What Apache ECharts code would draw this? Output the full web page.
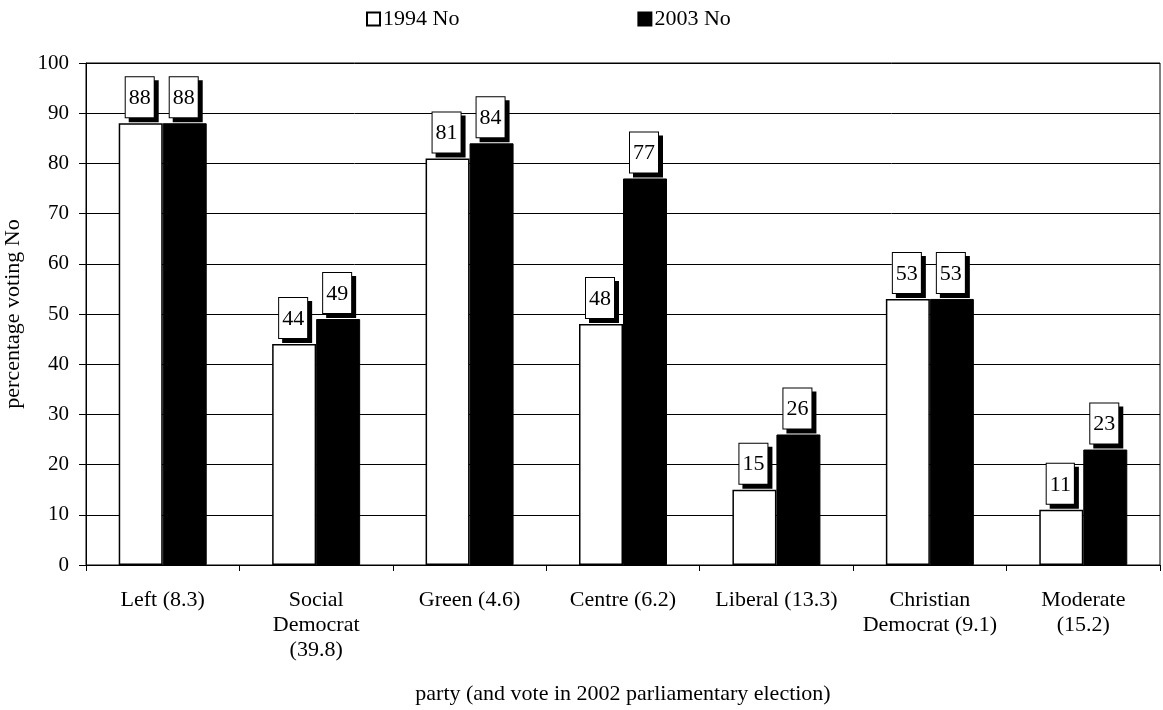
<!DOCTYPE html>
<html>
<head>
<meta charset="utf-8">
<script src="https://cdn.jsdelivr.net/npm/echarts@6/dist/echarts.min.js"></script>
<style>
  html, body { margin: 0; padding: 0; background: #fff; }
  #chart { width: 1163px; height: 710px; }
</style>
</head>
<body>
<div id="chart"></div>
<script>
// Parties with their vote share in the 2002 parliamentary election
const categories = [
  'Left (8.3)',
  'Social\nDemocrat\n(39.8)',
  'Green (4.6)',
  'Centre (6.2)',
  'Liberal (13.3)',
  'Christian\nDemocrat (9.1)',
  'Moderate\n(15.2)'
];
// Percentage voting No in each referendum
const no1994 = [88, 44, 81, 48, 15, 53, 11];
const no2003 = [88, 49, 84, 77, 26, 53, 23];
const yTicks = { min: 0, max: 100, interval: 10 };

const FONT = '"Liberation Serif", "DejaVu Serif", serif';
const FS = 22;

// Value tags: white box with a hard black drop shadow
const boxLabel = {
  show: true,
  position: 'top',
  distance: 6,
  offset: [-1, 0],
  fontFamily: FONT,
  fontSize: 22,
  lineHeight: 24,
  color: '#000',
  backgroundColor: '#fff',
  borderColor: '#000',
  borderWidth: 1,
  padding: [9, 3, 7, 3],
  shadowColor: '#000',
  shadowOffsetX: 4,
  shadowOffsetY: 4,
  shadowBlur: 0,
  formatter: p => String(p.value)
};

const chart = echarts.init(document.getElementById('chart'), null, { renderer: 'canvas' });
chart.setOption({
  animation: false,
  backgroundColor: '#fff',
  textStyle: { fontFamily: FONT, color: '#000' },
  legend: {
    top: 3,
    left: 361,
    itemGap: 178,
    itemWidth: 13,
    itemHeight: 13,
    icon: 'rect',
    textStyle: { fontFamily: FONT, fontSize: FS, color: '#000', padding: [0, 0, 0, -2] },
    data: ['1994 No', '2003 No']
  },
  grid: {
    left: 86,
    right: 3,
    top: 63,
    bottom: 145,
    outerBoundsMode: 'none',
    containLabel: false,
    show: true,
    borderColor: '#000',
    borderWidth: 1,
    backgroundColor: 'transparent'
  },
  xAxis: {
    type: 'category',
    data: categories,
    name: 'party (and vote in 2002 parliamentary election)',
    nameLocation: 'middle',
    nameGap: 118,
    nameTextStyle: { fontFamily: FONT, fontSize: FS, color: '#000' },
    axisLine: { lineStyle: { color: '#000', width: 1 } },
    axisTick: { show: true, length: 6, lineStyle: { color: '#000' } },
    axisLabel: {
      fontFamily: FONT,
      fontSize: FS,
      color: '#000',
      margin: 23,
      lineHeight: 25,
      interval: 0,
      align: 'center'
    }
  },
  yAxis: {
    type: 'value',
    min: yTicks.min,
    max: yTicks.max,
    interval: yTicks.interval,
    name: 'percentage voting No',
    nameLocation: 'middle',
    nameGap: 62,
    nameRotate: 90,
    nameTextStyle: { fontFamily: FONT, fontSize: FS, color: '#000' },
    axisLine: { show: true, lineStyle: { color: '#000', width: 1 } },
    axisTick: { show: true, length: 7, inside: false, lineStyle: { color: '#000' } },
    axisLabel: { fontFamily: FONT, fontSize: 21, color: '#000', margin: 17 },
    splitLine: { show: true, lineStyle: { color: '#000', width: 1 } }
  },
  series: [
    {
      name: '1994 No',
      type: 'bar',
      data: no1994,
      barWidth: 44,
      barGap: '0%',
      itemStyle: { color: '#fff', borderColor: '#000', borderWidth: 1.5 },
      label: boxLabel
    },
    {
      name: '2003 No',
      type: 'bar',
      data: no2003,
      barWidth: 44,
      barGap: '0%',
      itemStyle: { color: '#000', borderColor: '#000', borderWidth: 1 },
      label: boxLabel
    }
  ]
});
</script>
</body>
</html>
